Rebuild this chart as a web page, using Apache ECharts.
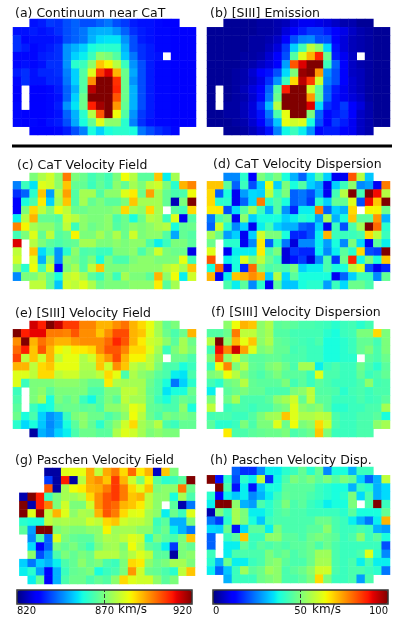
<!DOCTYPE html>
<html>
<head>
<meta charset="utf-8">
<style>
  html, body { margin: 0; padding: 0; background: #fff; }
  #chart { width: 407px; height: 627px; }
</style>
<script src="https://cdn.jsdelivr.net/npm/echarts@6/dist/echarts.min.js"></script>
</head>
<body>
<div id="chart"></div>
<script>
const n = null; // no data in this spaxel

// every map: 14 rows x 22 columns, values are positions on the colour scale (0-100)
const continuum = [
  [n,n,14,15,18,17,20,22,20,20,22,24,20,18,15,14,14,13,12,12,n,n],
  [14,14,15,14,15,17,20,22,24,29,30,30,27,22,17,15,14,13,13,12,11,11],
  [17,13,14,14,14,15,20,22,24,30,34,35,35,27,20,15,14,13,13,12,11,11],
  [17,15,13,14,15,17,27,30,33,38,40,40,40,30,20,17,15,13,13,12,11,11],
  [13,13,13,15,16,17,27,33,36,42,52,50,45,32,24,17,15,14,n,12,11,11],
  [13,14,13,14,17,17,27,40,42,52,70,65,57,42,27,20,15,13,13,12,11,11],
  [15,17,14,16,16,17,25,33,45,62,85,92,72,48,29,20,15,13,13,12,11,11],
  [13,17,14,14,16,16,24,33,45,76,100,100,86,48,27,20,15,13,13,12,11,11],
  [11,n,12,11,13,15,22,30,45,95,100,100,87,48,30,20,15,13,13,12,11,11],
  [11,n,11,11,13,14,22,33,48,100,100,100,82,48,30,20,15,13,13,12,11,11],
  [13,n,12,12,13,15,27,35,48,88,97,100,75,47,30,20,15,13,13,12,11,11],
  [13,12,12,12,13,14,22,30,40,57,82,100,64,45,27,18,15,13,13,12,11,11],
  [13,11,13,12,14,15,20,29,38,47,62,52,52,40,25,17,14,13,13,12,11,11],
  [n,n,12,12,12,13,15,20,25,38,33,38,40,40,38,24,20,17,15,13,n,n]
];
const siiiEmission = [
  [n,n,2,2,2,2,3,3,4,5,8,10,10,9,8,6,4,4,2,2,n,n],
  [2,2,2,2,2,2,3,3,4,8,12,15,18,18,15,12,9,6,4,3,2,2],
  [2,2,2,2,2,3,3,4,6,12,20,25,26,20,20,12,8,5,4,3,2,2],
  [2,2,2,2,2,3,3,5,8,18,33,43,58,52,34,14,8,5,4,3,2,2],
  [2,2,2,2,3,3,4,7,11,20,45,62,72,87,48,15,10,6,n,3,2,2],
  [2,2,2,2,3,4,6,8,11,28,82,92,100,100,42,22,11,6,4,3,2,2],
  [2,2,2,3,4,7,11,14,20,34,50,98,100,75,27,20,11,6,5,3,2,2],
  [2,2,2,3,4,6,9,17,27,42,68,95,85,60,25,20,11,7,5,3,2,2],
  [2,n,2,3,5,8,11,22,45,88,100,100,60,46,22,15,10,7,5,3,2,2],
  [2,n,2,3,4,7,13,24,48,100,100,100,75,46,22,14,10,8,6,3,2,2],
  [2,n,3,3,5,8,17,31,57,100,100,100,92,34,17,14,18,12,8,4,2,2],
  [2,2,3,3,5,8,14,24,44,63,100,100,50,22,13,15,17,12,6,4,2,2],
  [2,2,2,3,4,7,12,20,32,63,60,62,38,20,12,18,15,10,6,4,2,2],
  [n,n,2,2,3,5,8,14,25,37,42,36,27,13,15,15,12,10,6,4,n,n]
];
const catVelocity = [
  [n,n,50,56,60,52,78,50,48,43,46,43,50,64,57,46,46,70,36,55,n,n],
  [25,42,35,62,60,52,70,47,47,42,47,43,52,47,55,50,58,60,50,40,72,77],
  [17,22,40,70,28,57,74,45,55,55,45,52,52,62,66,48,74,55,47,44,44,64],
  [12,38,44,66,33,55,70,45,55,47,50,46,46,50,70,55,55,55,47,5,50,100],
  [12,50,68,58,50,63,58,48,48,50,50,50,52,68,55,52,68,55,n,46,43,68],
  [36,57,72,47,47,45,60,57,52,50,50,52,44,48,38,48,57,55,42,62,10,45],
  [77,65,55,52,52,47,58,42,52,48,50,52,45,48,52,50,52,55,57,38,47,48],
  [43,50,62,47,58,45,47,65,50,50,55,50,56,48,60,50,52,52,45,29,47,45],
  [92,n,57,50,46,44,46,47,55,55,50,50,52,50,52,52,44,36,42,50,50,46],
  [58,n,70,34,42,27,40,52,44,45,42,42,50,50,52,44,50,60,50,48,48,9],
  [60,n,62,30,52,27,52,50,45,50,38,50,44,44,50,52,52,50,50,50,63,43],
  [52,40,64,43,60,12,50,55,45,58,70,50,50,50,52,52,52,52,57,60,55,70],
  [26,50,50,55,47,38,58,60,55,46,42,50,42,55,50,50,46,72,52,64,36,60],
  [n,n,58,58,47,32,60,58,62,56,48,50,50,50,52,52,52,66,46,55,n,n]
];
const catDispersion = [
  [n,n,26,26,40,12,50,45,50,38,30,22,34,45,33,10,10,82,57,32,n,n],
  [70,70,46,22,42,20,33,63,33,50,38,45,33,29,10,33,42,52,26,28,10,78],
  [68,22,38,10,28,34,33,58,42,50,22,24,20,30,10,43,57,100,43,100,90,57],
  [68,40,40,10,22,34,78,40,45,38,22,24,18,40,33,47,47,62,20,90,70,100],
  [66,66,20,34,45,55,42,30,45,27,16,36,36,78,22,33,30,68,n,65,65,48],
  [24,44,48,10,52,33,38,38,38,33,36,40,38,28,55,30,38,70,46,46,75,30],
  [22,60,40,26,33,10,36,43,33,30,30,22,20,33,10,42,20,44,55,100,80,40],
  [55,48,28,33,10,33,60,50,50,38,16,16,20,36,72,42,42,42,44,68,58,42],
  [48,n,40,40,10,26,66,22,40,24,8,26,26,36,28,38,26,50,34,10,46,36],
  [62,n,10,36,36,36,66,44,50,8,18,16,16,36,26,36,46,40,68,20,18,100],
  [82,n,36,38,62,50,58,48,42,8,14,18,8,26,44,18,48,87,37,50,38,70],
  [38,80,10,38,16,80,50,44,46,44,50,33,36,36,44,38,38,57,62,20,10,16],
  [72,10,36,70,72,76,72,33,57,34,46,38,38,38,38,10,22,33,42,42,26,47],
  [n,n,44,36,46,26,40,10,46,32,32,38,40,40,28,42,34,48,48,44,n,n]
];
const siiiVelocity = [
  [n,n,93,88,100,94,85,85,77,77,72,72,76,79,72,68,63,55,47,50,n,n],
  [100,88,91,91,78,78,77,82,76,76,70,76,83,83,72,70,62,55,48,44,48,72],
  [76,100,72,79,75,72,72,75,76,76,76,80,87,82,72,66,60,58,52,46,55,48],
  [80,88,70,82,72,65,62,66,66,68,76,82,82,77,68,68,62,55,42,50,55,50],
  [84,58,70,60,72,58,63,63,56,60,70,75,83,72,65,65,58,52,n,48,48,44],
  [72,72,58,68,70,63,63,63,56,56,70,60,76,70,58,55,58,50,44,44,38,42],
  [62,62,58,68,68,58,60,60,55,55,58,68,63,44,56,52,50,46,44,36,35,44],
  [62,42,50,50,50,52,52,52,50,47,47,66,56,55,55,55,48,44,38,24,33,40],
  [42,n,50,52,46,50,50,50,50,44,44,50,50,58,58,55,47,44,35,38,38,48],
  [44,n,50,55,38,50,47,50,42,37,45,50,46,58,55,55,48,42,38,44,48,46],
  [46,n,42,37,38,47,48,48,46,47,44,52,52,55,63,60,47,46,44,44,52,38],
  [48,38,44,33,27,30,42,50,52,48,48,44,47,52,64,57,48,44,50,48,50,48],
  [40,34,38,32,26,30,38,46,52,47,40,47,52,60,68,55,52,57,44,42,47,47],
  [n,n,3,30,27,33,36,44,48,48,46,46,56,62,60,55,50,52,50,50,n,n]
];
const siiiDispersion = [
  [n,n,52,64,72,70,52,56,46,47,46,44,44,43,42,40,42,43,40,43,n,n],
  [45,45,48,78,58,58,52,55,45,45,43,43,43,43,40,38,42,43,50,50,68,50],
  [57,100,52,72,63,70,52,56,47,46,44,43,42,44,38,38,40,42,47,47,43,50],
  [43,90,77,93,74,62,50,52,47,47,43,44,42,42,38,38,40,42,47,50,44,50],
  [50,82,52,60,50,46,46,47,47,45,44,44,42,42,38,38,40,40,n,46,44,48],
  [42,64,77,50,57,47,46,50,52,48,44,55,55,36,42,44,42,42,48,44,40,46],
  [50,52,64,57,50,46,44,47,50,46,46,46,42,62,44,44,42,42,47,42,44,47],
  [43,40,48,50,57,47,46,46,46,50,43,46,42,46,44,42,42,42,44,52,43,44],
  [36,n,46,48,50,47,47,44,44,44,50,52,58,45,45,44,40,43,44,42,44,44],
  [50,n,48,55,44,44,44,46,52,55,60,47,58,46,46,42,42,42,44,42,43,46],
  [58,n,42,44,44,42,44,44,48,50,62,52,50,52,46,40,40,42,42,44,44,55],
  [43,44,44,42,42,45,50,54,55,70,62,56,56,58,57,44,42,42,44,44,46,38],
  [46,40,40,42,50,44,50,50,62,48,64,50,52,68,60,44,42,42,44,44,52,55],
  [n,n,66,44,44,46,47,48,48,50,44,46,48,70,50,42,42,42,44,44,n,n]
];
const paschenVelocity = [
  [n,n,n,n,3,3,62,63,63,73,58,73,78,68,80,66,72,6,70,50,n,n],
  [n,n,n,n,18,3,88,3,57,73,76,70,85,72,60,50,65,46,40,42,46,100],
  [n,n,n,n,82,3,55,64,66,72,73,78,85,78,68,62,70,50,52,52,78,48],
  [n,4,100,88,42,50,55,54,57,68,76,82,85,78,70,72,58,52,52,38,55,44],
  [n,100,4,88,78,50,60,50,50,60,76,82,80,72,70,66,58,52,n,46,4,24],
  [n,100,62,98,58,72,62,52,56,55,72,82,78,68,62,63,55,52,36,48,42,62],
  [n,40,38,38,58,55,56,55,55,60,58,68,70,60,58,58,55,42,46,30,30,50],
  [n,46,28,100,100,50,52,50,50,52,52,65,54,55,55,52,52,44,48,36,30,24],
  [n,n,26,44,22,62,50,47,46,46,52,56,55,58,62,60,40,50,46,44,50,70],
  [n,n,34,12,22,50,47,50,46,42,50,54,55,50,64,57,46,44,36,18,50,47],
  [n,n,52,20,28,44,50,47,50,48,57,57,57,52,57,62,58,46,46,3,50,52],
  [n,33,24,33,30,36,44,47,52,48,50,44,42,50,68,66,52,48,50,55,55,50],
  [n,36,40,28,12,30,42,47,48,50,38,42,44,50,75,60,48,47,44,40,58,70],
  [n,n,36,47,12,30,44,48,48,44,47,45,52,68,62,60,60,52,46,50,n,n]
];
const paschenDispersion = [
  [n,n,n,22,17,17,26,36,36,40,42,47,40,47,26,38,38,30,42,42,n,n],
  [100,14,40,20,40,36,58,17,37,44,50,47,50,46,50,45,50,47,33,22,30,58],
  [n,100,44,14,36,14,32,38,38,46,46,46,46,42,40,38,38,30,42,40,30,34],
  [40,12,36,32,36,26,30,36,42,47,46,46,44,42,40,38,40,50,34,44,30,34],
  [36,100,100,52,30,28,44,40,44,50,44,46,42,40,36,38,38,50,n,44,100,42],
  [4,50,42,55,50,36,36,40,44,46,44,44,42,42,42,42,40,46,38,38,38,47],
  [24,18,40,55,50,38,32,42,44,44,44,44,44,48,48,44,42,36,30,24,36,72],
  [34,33,48,14,34,46,46,36,50,44,44,44,46,46,52,44,42,42,44,42,30,28],
  [22,n,42,46,70,42,42,52,52,46,46,44,48,50,48,46,42,44,52,42,46,38],
  [22,n,36,36,47,42,46,44,46,44,46,46,48,44,48,44,42,42,42,42,42,20],
  [42,n,36,44,44,44,44,50,46,48,44,46,48,54,54,44,42,42,44,62,40,26],
  [40,30,48,36,36,42,44,50,52,46,44,44,48,55,55,44,42,44,36,44,36,36],
  [36,22,32,42,54,46,48,54,52,44,46,48,52,60,60,44,42,44,44,42,40,24],
  [n,n,30,42,42,42,48,50,52,44,44,46,50,68,50,42,42,44,28,44,n,n]
];

const velocityTicks = [820, 870, 920];
const dispersionTicks = [0, 50, 100];

// matplotlib jet
function jet(t) {
  const ramp = (pts) => {
    for (let i = 1; i < pts.length; i++) {
      if (t <= pts[i][0]) {
        const [x0, y0] = pts[i - 1], [x1, y1] = pts[i];
        return y0 + (y1 - y0) * (t - x0) / (x1 - x0);
      }
    }
    return pts[pts.length - 1][1];
  };
  const r = ramp([[0, 0], [0.35, 0], [0.66, 1], [0.89, 1], [1, 0.5]]);
  const g = ramp([[0, 0], [0.125, 0], [0.375, 1], [0.64, 1], [0.91, 0], [1, 0]]);
  const b = ramp([[0, 0.5], [0.11, 1], [0.34, 1], [0.65, 0], [1, 0]]);
  return `rgb(${Math.round(r * 255)},${Math.round(g * 255)},${Math.round(b * 255)})`;
}
const jetColors = [];
for (let i = 0; i <= 128; i++) jetColors.push(jet(i / 128));

const panels = [
  { title: '(a) Continuum near CaT', values: continuum, left: 13, top: 19, width: 183, titleX: 15, titleY: 7 },
  { title: '(b) [SIII] Emission', values: siiiEmission, left: 207, top: 19, width: 183, titleX: 210, titleY: 7 },
  { title: '(c) CaT Velocity Field', values: catVelocity, left: 13, top: 173, width: 183, titleX: 17, titleY: 159 },
  { title: '(d) CaT Velocity Dispersion', values: catDispersion, left: 207, top: 173, width: 183, titleX: 213, titleY: 158 },
  { title: '(e) [SIII] Velocity Field', values: siiiVelocity, left: 13, top: 321, width: 183, titleX: 15, titleY: 307 },
  { title: '(f) [SIII] Velocity Dispersion', values: siiiDispersion, left: 207, top: 321, width: 183, titleX: 211, titleY: 306 },
  { title: '(g) Paschen Velocity Field', values: paschenVelocity, left: 11, top: 468, width: 184, titleX: 15, titleY: 454 },
  { title: '(h) Paschen Velocity Disp.', values: paschenDispersion, left: 207, top: 467, width: 183, titleX: 210, titleY: 454 }
];

const colorbars = [
  { ticks: velocityTicks, left: 17, seriesIndex: [0, 1, 2, 4, 6], unitX: 118 },
  { ticks: dispersionTicks, left: 213, seriesIndex: [3, 5, 7], unitX: 312 }
];

const rowIndex = continuum.map((_, i) => i);
const colIndex = continuum[0].map((_, i) => i);
const font = 'DejaVu Sans';

const grid = [], xAxis = [], yAxis = [], series = [], title = [];

panels.forEach((p, i) => {
  grid.push({ left: p.left, top: p.top, width: p.width, height: 116 });
  xAxis.push({ type: 'category', gridIndex: i, data: colIndex, show: false });
  yAxis.push({ type: 'category', gridIndex: i, data: rowIndex, inverse: true, show: false });
  const data = [];
  p.values.forEach((row, r) => row.forEach((v, c) => {
    if (v !== null) data.push([c, r, v]);
  }));
  series.push({ type: 'heatmap', xAxisIndex: i, yAxisIndex: i, data, progressive: 0, animation: false });
  title.push({
    text: p.title, left: p.titleX, top: p.titleY, padding: 0,
    textStyle: { fontFamily: font, fontSize: 12.5, fontWeight: 'normal', color: '#111' }
  });
});

// colour bar axes sit on top of the visualMap ramps
colorbars.forEach((bar, i) => {
  grid.push({
    left: bar.left, top: 590, width: 175, height: 14, z: 10,
    show: true, borderColor: '#333', borderWidth: 1.5, backgroundColor: 'transparent'
  });
  xAxis.push({
    type: 'value', gridIndex: panels.length + i, z: 10,
    min: bar.ticks[0], max: bar.ticks[2], splitLine: { show: false },
    axisLine: { show: false },
    axisTick: {
      customValues: [bar.ticks[1]], inside: true, length: 14,
      lineStyle: { color: '#333', type: 'dashed', width: 1 }
    },
    axisLabel: {
      customValues: bar.ticks, margin: 2, alignMinLabel: 'left', alignMaxLabel: 'right',
      hideOverlap: false, showMinLabel: true, showMaxLabel: true,
      fontFamily: font, fontSize: 10, color: '#111'
    }
  });
  yAxis.push({ type: 'value', gridIndex: panels.length + i, show: false });
  title.push({
    text: 'km/s', left: bar.unitX, top: 604, padding: 0,
    textStyle: { fontFamily: font, fontSize: 12, fontWeight: 'normal', color: '#111' }
  });
});

const chart = echarts.init(document.getElementById('chart'), null, { renderer: 'canvas' });
chart.setOption({
  animation: false,
  backgroundColor: '#fff',
  title,
  grid,
  xAxis,
  yAxis,
  visualMap: colorbars.map((bar) => ({
    type: 'continuous',
    seriesIndex: bar.seriesIndex,
    dimension: 2,
    min: 0,
    max: 100,
    orient: 'horizontal',
    left: bar.left,
    top: 590,
    itemWidth: 14,
    itemHeight: 175,
    padding: 0,
    text: null,
    calculable: false,
    hoverLink: false,
    inRange: { color: jetColors }
  })),
  series,
  graphic: [{
    type: 'line', silent: true,
    shape: { x1: 12, y1: 146, x2: 392, y2: 146 },
    style: { stroke: '#000', lineWidth: 3 }
  }]
});
</script>
</body>
</html>
